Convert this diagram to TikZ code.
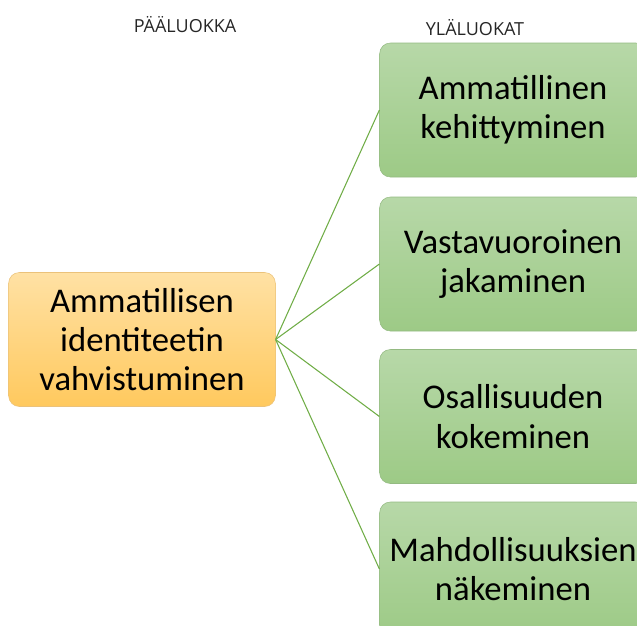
\documentclass[tikz,border=0pt]{standalone}
\usepackage{fontspec}
\setmainfont{Carlito}
\newfontfamily\otsikkofont{Open Sans}

\definecolor{paaYla}{HTML}{FFE1A4}
\definecolor{paaAla}{HTML}{FFC95E}
\definecolor{paaReuna}{HTML}{EBC27A}
\definecolor{ylaYla}{HTML}{B7D8A8}
\definecolor{ylaAla}{HTML}{9DCA86}
\definecolor{ylaReuna}{HTML}{94BA82}
\definecolor{yhteysVari}{HTML}{70AD47}

\tikzset{
  luokka/.style={rounded corners=8pt, minimum width=200pt, minimum height=100.5pt,
    inner sep=0pt, align=center, font=\fontsize{26}{29.5}\selectfont},
  paaluokka/.style={luokka, draw=paaReuna, top color=paaYla, bottom color=paaAla},
  ylaluokka/.style={luokka, draw=ylaReuna, top color=ylaYla, bottom color=ylaAla},
  yhteys/.style={draw=yhteysVari, line width=0.8pt},
  otsikko/.style={anchor=base, text=black!85, font=\otsikkofont\fontsize{13.5}{16}\selectfont}
}

\begin{document}
\begin{tikzpicture}[x=0.75pt, y=-0.75pt]
      \useasboundingbox (0, 0) rectangle (637, 626);
      \clip (0, 0) rectangle (637, 626);
      \node [otsikko] (paaotsikko) at (185, 32) {PÄÄLUOKKA};
      \node [otsikko] (ylaotsikko) at (475, 35) {YLÄLUOKAT};
      \node [paaluokka] (paa) at (142, 339.5) {Ammatillisen\\identiteetin\\vahvistuminen};
      \foreach \n/\y/\teksti in {1/110/{Ammatillinen\\kehittyminen},
                                 2/264/{Vastavuoroinen\\jakaminen},
                                 3/416.5/{Osallisuuden\\kokeminen},
                                 4/569/{Mahdollisuuksien\\näkeminen}}
      {
        \node [ylaluokka] (yla\n) at (513, \y) {\teksti};
        \draw [yhteys] (paa.east) -- (yla\n.west);
      }
    \end{tikzpicture}
\end{document}
